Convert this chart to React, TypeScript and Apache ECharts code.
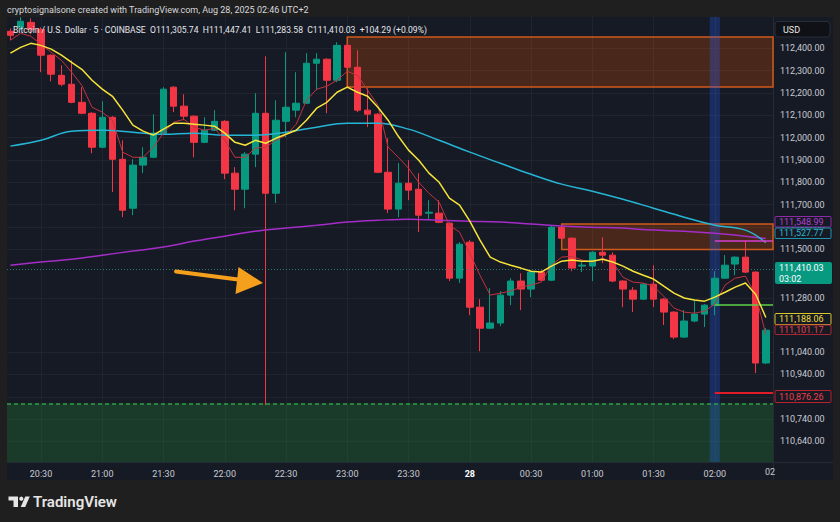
import React, { useEffect, useRef } from "react";
import * as echarts from "echarts";

// ---- candle data (5-minute BTC/USD, index 0 = 20:15) ----
const opens = [
  112476, 112494, 112516, 112485, 112369, 112279, 112239, 112158, 112109, 111957,
  112091, 111903, 111684, 111877, 111912, 112020, 112226, 112141, 112096, 111979,
  112033, 112073, 111841, 111769, 111926, 112109, 111751, 112073, 112123, 112154,
  112333, 112351, 112257, 112413, 112315, 112123, 112105, 111845, 111680, 111796,
  111769, 111662, 111662, 111617, 111371, 111532, 111241, 111147, 111170, 111295,
  111358, 111322, 111398, 111362, 111599, 111550, 111425, 111425, 111487, 111474,
  111358, 111317, 111277, 111344, 111277, 111219, 111107, 111179, 111210, 111250,
  111371, 111434, 111465, 111398, 110991,
];
const highs = [
  112489, 112539, 112534, 112494, 112373, 112324, 112346, 112226, 112114, 112163,
  112096, 111988, 111903, 111957, 112105, 112226, 112230, 112194, 112100, 112091,
  112123, 112078, 111868, 111935, 112199, 112364, 112167, 112382, 112293, 112378,
  112378, 112355, 112427, 112422, 112391, 112221, 112109, 111997, 111886, 111899,
  111841, 111720, 111720, 111621, 111532, 111541, 111277, 111326, 111313, 111371,
  111393, 111402, 111407, 111608, 111613, 111554, 111443, 111492, 111554, 111487,
  111362, 111331, 111349, 111429, 111282, 111223, 111228, 111273, 111255, 111402,
  111474, 111469, 111537, 111402, 111147,
];
const lows = [
  112436, 112481, 112463, 112293, 112252, 112230, 112154, 112105, 111930, 111953,
  111756, 111644, 111653, 111841, 111908, 112015, 112114, 112078, 111912, 111975,
  112029, 111814, 111675, 111684, 111868, 110803, 111707, 112002, 112091, 112150,
  112212, 112109, 112248, 112311, 112114, 112047, 111841, 111662, 111644, 111720,
  111577, 111631, 111617, 111358, 111349, 111205, 111044, 111143, 111156, 111250,
  111228, 111286, 111358, 111358, 111541, 111402, 111398, 111358, 111438, 111353,
  111241, 111219, 111273, 111241, 111161, 111098, 111103, 111174, 111152, 111205,
  111367, 111384, 111393, 110946, 110986,
];
const closes = [
  112458, 112521, 112485, 112369, 112284, 112239, 112158, 112109, 111957, 112091,
  111903, 111675, 111877, 111912, 112020, 112217, 112141, 112096, 111979, 112033,
  112073, 111841, 111769, 111926, 112109, 111751, 112078, 112136, 112154, 112333,
  112351, 112257, 112413, 112315, 112123, 112105, 111845, 111680, 111796, 111765,
  111653, 111666, 111621, 111371, 111523, 111241, 111147, 111170, 111295, 111358,
  111322, 111398, 111362, 111599, 111550, 111416, 111429, 111487, 111474, 111358,
  111322, 111277, 111344, 111277, 111219, 111107, 111179, 111210, 111250, 111371,
  111429, 111465, 111398, 110991, 111138,
];

// ---- indicator lines ----
const fastLine = [
  112436, 112467, 112454, 112418, 112382, 112346, 112293, 112234, 112136, 112114,
  112078, 111935, 111912, 111912, 111957, 112020, 112069, 112082, 112047, 112033,
  112042, 111988, 111912, 111912, 111953, 111957, 111988, 112011, 112060, 112167,
  112217, 112230, 112257, 112297, 112279, 112212, 112145, 111957, 111912, 111863,
  111800, 111751, 111711, 111608, 111577, 111483, 111384, 111295, 111304, 111313,
  111331, 111340, 111353, 111429, 111465, 111469, 111452, 111443, 111460, 111443,
  111375, 111353, 111349, 111335, 111290, 111237, 111219, 111214, 111223, 111255,
  111340, 111371, 111380, 111295, 111120,
];
const midLine = [
  112378, 112404, 112422, 112413, 112396, 112369, 112337, 112306, 112257, 112217,
  112185, 112123, 112056, 112029, 112011, 112038, 112064, 112064, 112060, 112056,
  112051, 112020, 111979, 111966, 111988, 111975, 111997, 112015, 112033, 112078,
  112132, 112158, 112203, 112226, 112203, 112185, 112136, 112078, 112006, 111944,
  111899, 111841, 111800, 111729, 111698, 111626, 111541, 111465, 111443, 111429,
  111416, 111402, 111398, 111425, 111447, 111452, 111447, 111447, 111456, 111443,
  111425, 111402, 111384, 111367, 111335, 111304, 111282, 111273, 111268, 111286,
  111308, 111331, 111349, 111299, 111195,
];
const slowIdx = [0, 3, 6, 9, 12, 15, 18, 21, 24, 27, 30, 33, 36, 39, 42, 45, 48, 51, 54, 57, 60, 63, 66, 69, 72, 74];
const slowLine = [
  111962, 111988, 112029, 112033, 112024, 112015, 112020, 112011, 112011, 112024,
  112047, 112064, 112064, 112038, 111988, 111935, 111885, 111836, 111792, 111760,
  111724, 111684, 111644, 111608, 111586, 111530,
];
const longLine = [
  111429, 111443, 111456, 111474, 111492, 111510, 111537, 111559, 111581, 111595,
  111608, 111622, 111630, 111635, 111630, 111626, 111622, 111613, 111604, 111599,
  111595, 111586, 111581, 111572, 111559, 111549,
];

// ---- axes ----
const xTickIdx = [3, 9, 15, 21, 27, 33, 39, 45, 51, 57, 63, 69];
const xTickLabels = ["20:30", "21:00", "21:30", "22:00", "22:30", "23:00", "23:30", "28", "00:30", "01:00", "01:30", "02:00"];
const yTicks = [
  112400, 112300, 112200, 112100, 112000, 111900, 111800, 111700, 111600, 111500,
  111280, 111040, 110940, 110840, 110740, 110640,
];

// ---- drawings ----
const supplyStarts = [33, 54];
const supplyTops = [112450, 111613];
const supplyBottoms = [112227, 111499];
const demandTop = 110810;
const highlightBar = 69;
const rayStart = 69;
const rayPrices = [111538, 111253, 110860];
const lastPrice = 111410.03;

const X_MIN = -0.33;
const X_MAX = 74.7;
const Y_MIN = 110548;
const Y_MAX = 112540;

const FONT = 'Roboto, "Liberation Sans", sans-serif';

function priceTag(y: number, h: number, text: string, stroke: string, fill: string) {
  return {
    type: "group",
    children: [
      { type: "rect", z: 60, shape: { x: 775, y, width: 56, height: h, r: 1 }, style: { fill: "#161a25", stroke, lineWidth: 1 } },
      { type: "text", z: 61, style: { x: 779, y: y + h / 2, text, fill, font: `9px ${FONT}`, verticalAlign: "middle" } },
    ],
  };
}

export default function App() {
  const ref = useRef<HTMLDivElement>(null);
  useEffect(() => {
    if (!ref.current) return;
    const chart = echarts.init(ref.current, null, { renderer: "svg" });
    const candleData = opens.map((o, i) => [i, o, closes[i], lows[i], highs[i]]);
    const fmtPrice = (v: number) =>
      v.toLocaleString("en-US", { minimumFractionDigits: 2, maximumFractionDigits: 2 });

    const supplyStyle = { color: "rgba(230,81,0,0.25)", borderColor: "#cf5a1c", borderWidth: 1.5 };

    const option: any = {
      animation: false,
      backgroundColor: "#1f1f1f",
      textStyle: { fontFamily: FONT },
      grid: { left: 7, top: 17, right: 67, bottom: 60 },
      xAxis: {
        type: "value",
        min: X_MIN,
        max: X_MAX,
        axisLine: { show: false },
        axisTick: { show: false, customValues: xTickIdx },
        axisLabel: {
          customValues: xTickIdx,
          color: "#c8cbd3",
          fontSize: 9,
          margin: 7,
          formatter: (v: number) => {
            const k = xTickIdx.indexOf(Math.round(v));
            if (k < 0) return "";
            const s = xTickLabels[k];
            return s.length <= 2 ? `{d|${s}}` : s;
          },
          rich: { d: { fontWeight: "bold", color: "#ffffff", fontSize: 9 } },
        },
        splitLine: { show: true, lineStyle: { color: "rgba(42,46,57,0.55)", width: 1 } },
      },
      yAxis: {
        type: "value",
        position: "right",
        min: Y_MIN,
        max: Y_MAX,
        scale: true,
        axisLine: { show: false },
        axisTick: { show: false, customValues: yTicks },
        axisLabel: {
          customValues: yTicks,
          color: "#c8cbd3",
          fontSize: 9,
          margin: 7,
          formatter: (v: number) => fmtPrice(v),
        },
        splitLine: { show: true, lineStyle: { color: "rgba(42,46,57,0.55)", width: 1 } },
      },
      series: [
        {
          type: "candlestick",
          data: candleData,
          encode: { x: 0, y: [1, 2, 3, 4] },
          barWidth: 7,
          z: 3,
          itemStyle: {
            color: "#089981",
            color0: "#f23645",
            borderColor: "#089981",
            borderColor0: "#f23645",
            borderWidth: 1,
          },
          markArea: {
            silent: true,
            data: [
              [
                { xAxis: supplyStarts[0], yAxis: supplyTops[0], itemStyle: supplyStyle },
                { xAxis: X_MAX, yAxis: supplyBottoms[0] },
              ],
              [
                { xAxis: supplyStarts[1], yAxis: supplyTops[1], itemStyle: supplyStyle },
                { xAxis: X_MAX, yAxis: supplyBottoms[1] },
              ],
              [
                { xAxis: X_MIN, yAxis: demandTop, itemStyle: { color: "rgba(34,120,50,0.36)" } },
                { xAxis: X_MAX, yAxis: Y_MIN },
              ],
              [
                { xAxis: highlightBar - 0.5, yAxis: Y_MIN, itemStyle: { color: "rgba(41,98,255,0.28)" } },
                { xAxis: highlightBar + 0.5, yAxis: Y_MAX },
              ],
            ],
          },
          markLine: {
            silent: true,
            symbol: ["none", "none"],
            label: { show: false },
            data: [
              { yAxis: lastPrice, lineStyle: { color: "rgba(60,140,128,0.8)", type: [1, 2], width: 1 } },
              { yAxis: demandTop, lineStyle: { color: "#2f9e44", type: [4, 3], width: 1.5 } },
              [
                { coord: [rayStart, rayPrices[0]], lineStyle: { color: "#d53fd0", type: "solid", width: 1.5 } },
                { coord: [X_MAX, rayPrices[0]] },
              ],
              [
                { coord: [rayStart, rayPrices[1]], lineStyle: { color: "#5fd048", type: "solid", width: 1.5 } },
                { coord: [X_MAX, rayPrices[1]] },
              ],
              [
                { coord: [rayStart, rayPrices[2]], lineStyle: { color: "#e01b2a", type: "solid", width: 2 } },
                { coord: [X_MAX, rayPrices[2]] },
              ],
            ],
          },
        },
        {
          type: "line",
          data: longLine.map((v, k) => [slowIdx[k], v]),
          smooth: 0.4,
          showSymbol: false,
          z: 4,
          lineStyle: { color: "#a42dc8", width: 1.5 },
        },
        {
          type: "line",
          data: slowLine.map((v, k) => [slowIdx[k], v]),
          smooth: 0.4,
          showSymbol: false,
          z: 4,
          lineStyle: { color: "#25b6d6", width: 1.5 },
        },
        {
          type: "line",
          data: fastLine.map((v, i) => [i, v]),
          showSymbol: false,
          z: 5,
          lineStyle: { color: "#c23340", width: 1 },
        },
        {
          type: "line",
          data: midLine.map((v, i) => [i, v]),
          showSymbol: false,
          z: 6,
          lineStyle: { color: "#f7e43a", width: 1.5 },
        },
      ],
      graphic: [
        { type: "rect", z: -100, silent: true, shape: { x: 7, y: 17, width: 826, height: 463 }, style: { fill: "#161a25" } },
        { type: "line", z: 1, silent: true, shape: { x1: 773.5, y1: 17, x2: 773.5, y2: 480 }, style: { stroke: "#262a35", lineWidth: 1 } },
        { type: "line", z: 1, silent: true, shape: { x1: 7, y1: 462.5, x2: 833, y2: 462.5 }, style: { stroke: "#262a35", lineWidth: 1 } },
        {
          type: "text", z: 50,
          style: { x: 7, y: 10, text: "cryptosignalsone created with TradingView.com, Aug 28, 2025 02:46 UTC+2", fill: "#d6d8de", font: `9px ${FONT}`, verticalAlign: "middle" },
        },
        {
          type: "text", z: 50,
          style: {
            x: 13, y: 29.5,
            text: "Bitcoin / U.S. Dollar · 5 · COINBASE  O111,305.74  H111,447.41  L111,283.58  C111,410.03  +104.29 (+0.09%)",
            fill: "#e4e6eb", font: `8.6px ${FONT}`, verticalAlign: "middle",
          },
        },
        {
          type: "group",
          children: [
            { type: "rect", z: 60, shape: { x: 775, y: 21.5, width: 55, height: 15.5, r: 3 }, style: { fill: "#0f1116", stroke: "#2a2e39", lineWidth: 1 } },
            { type: "text", z: 61, style: { x: 783, y: 29.5, text: "USD", fill: "#e8e8e8", font: `9px ${FONT}`, verticalAlign: "middle" } },
          ],
        },
        priceTag(216.5, 10.5, "111,548.99", "#8e2aa8", "#b43fd2"),
        priceTag(228, 10.5, "111,527.77", "#1f94ab", "#2bb8d0"),
        {
          type: "group",
          children: [
            { type: "rect", z: 60, shape: { x: 775, y: 262, width: 57, height: 22, r: 2 }, style: { fill: "#089981" } },
            { type: "text", z: 61, style: { x: 779, y: 268, text: "111,410.03", fill: "#ffffff", font: `9px ${FONT}`, verticalAlign: "middle" } },
            { type: "text", z: 61, style: { x: 779, y: 278.5, text: "03:02", fill: "#ffffff", font: `9px ${FONT}`, verticalAlign: "middle" } },
          ],
        },
        priceTag(313.5, 11, "111,188.06", "#d9c62c", "#f1de3c"),
        priceTag(325, 9.5, "111,101.17", "#a82631", "#e5404b"),
        priceTag(390.5, 12, "110,876.26", "#b8212d", "#ee3f4b"),
        { type: "text", z: 50, style: { x: 765, y: 472, text: "02", fill: "#c8cbd3", font: `9px ${FONT}`, verticalAlign: "middle" } },
        {
          type: "group",
          children: [
            { type: "line", z: 40, shape: { x1: 176, y1: 271.5, x2: 242, y2: 280 }, style: { stroke: "#f5a01c", lineWidth: 4, lineCap: "round" } },
            { type: "polygon", z: 40, shape: { points: [[263, 283], [238.5, 267], [235.5, 294]] }, style: { fill: "#f5a01c" } },
          ],
        },
        {
          type: "group",
          children: [
            { type: "polygon", z: 50, shape: { points: [[8.5, 496.5], [18, 496.5], [18, 507], [13.5, 507], [13.5, 500.5], [8.5, 500.5]] }, style: { fill: "#e6e6e6" } },
            { type: "circle", z: 50, shape: { cx: 21.3, cy: 498.7, r: 2.1 }, style: { fill: "#e6e6e6" } },
            { type: "polygon", z: 50, shape: { points: [[25.3, 496.5], [29.8, 496.5], [25.2, 507], [20.7, 507]] }, style: { fill: "#e6e6e6" } },
            { type: "text", z: 50, style: { x: 33, y: 502, text: "TradingView", fill: "#e6e6e6", font: `600 15px ${FONT}`, verticalAlign: "middle" } },
          ],
        },
      ],
    };
    chart.setOption(option);
    return () => chart.dispose();
  }, []);
  return (
    <div
      ref={ref}
      style={{ position: "fixed", left: 0, top: 0, width: 840, height: 522, background: "#1f1f1f" }}
    />
  );
}
